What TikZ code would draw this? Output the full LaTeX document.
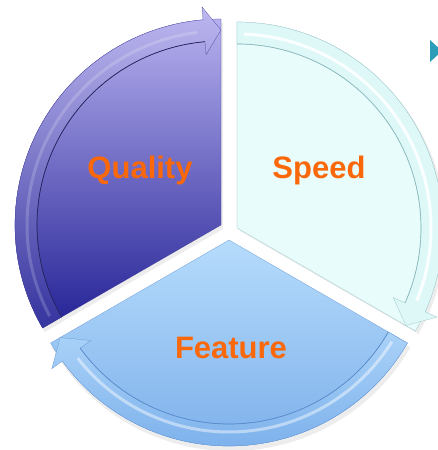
\documentclass[tikz,border=0pt]{standalone}
\usepackage{fontspec}
\setmainfont{Liberation Sans}
\usepackage{tikz}
\definecolor{qualtop}{RGB}{182,176,238}
\definecolor{qualbot}{RGB}{36,34,150}
\definecolor{qualedge}{RGB}{60,56,150}
\definecolor{speedfill}{RGB}{232,252,252}
\definecolor{speedband}{RGB}{222,248,248}
\definecolor{speededge}{RGB}{140,186,190}
\definecolor{feattop}{RGB}{182,220,252}
\definecolor{featbot}{RGB}{118,170,232}
\definecolor{featbandtop}{RGB}{170,210,248}
\definecolor{featbandbot}{RGB}{126,178,236}
\definecolor{featedge}{RGB}{90,140,205}
\definecolor{orangetxt}{RGB}{250,104,10}
\definecolor{bullet}{RGB}{42,158,184}
\tikzset{parttext/.style={font=\bfseries\fontsize{31}{31}\selectfont,text=orangetxt,inner sep=0pt}}
\tikzset{rim/.style={very thin}}
\tikzset{gloss/.style={white,opacity=.5,line width=3pt}}
\tikzset{groove/.style={line width=.7pt}}
\tikzset{shadow/.style={black,opacity=.07}}

\begin{document}
\begin{tikzpicture}[x=1pt,y=1pt]
  \useasboundingbox (0,0) rectangle (437,450);
  % soft shadows
  \fill[shadow,shift={(231,206)}] (0,0) -- (330:207) arc[start angle=330,end angle=210,radius=207] -- cycle;
  \fill[shadow,shift={(240,219)}] (0,0) -- (90:206) arc[start angle=90,end angle=-30,radius=206] -- cycle;
  \fill[shadow,shift={(223,221)}] (0,0) -- (210:206) arc[start angle=210,end angle=90,radius=206] -- cycle;
  % Quality
  \begin{scope}[shift={(221,225)}]
    \shade[top color=qualtop,bottom color=qualbot,draw=qualedge,rim]
    (0,0) -- (210:206) arc[start angle=210,end angle=90,radius=206] -- cycle;
    \shade[top color=qualtop!90!white,bottom color=qualbot!92!white,draw=qualedge,rim]
    (210:184) -- (210:206) arc[start angle=210,end angle=95,radius=206]
    -- (95:219) -- (90:195) -- (95:171) -- (95:184)
    arc[start angle=95,end angle=210,radius=184] -- cycle;
    \draw[gloss,opacity=.18] (208:194) arc[start angle=208,end angle=97,radius=194];
    \draw[groove,qualedge!60!black] (210:184) arc[start angle=210,end angle=95,radius=184];
  \end{scope}
  % Speed
  \begin{scope}[shift={(237,222)}]
    \fill[speedfill,draw=speededge,rim]
    (0,0) -- (90:206) arc[start angle=90,end angle=-30,radius=206] -- cycle;
    \fill[speedband,draw=speededge,rim]
    (90:184) -- (90:206) arc[start angle=90,end angle=-24,radius=206]
    -- (-24:219) -- (-30:195) -- (-24:171) -- (-24:184)
    arc[start angle=-24,end angle=90,radius=184] -- cycle;
    \draw[gloss,opacity=.9] (88:194) arc[start angle=88,end angle=-22,radius=194];
    \draw[groove,speededge] (90:184) arc[start angle=90,end angle=-24,radius=184];
  \end{scope}
  % Feature
  \begin{scope}[shift={(229,210)}]
    \shade[top color=feattop,bottom color=featbot,draw=featedge,rim]
    (0,0) -- (330:206) arc[start angle=330,end angle=210,radius=206] -- cycle;
    \shade[top color=featbandtop,bottom color=featbandbot,draw=featedge,rim]
    (330:184) -- (330:206) arc[start angle=330,end angle=216,radius=206]
    -- (216:219) -- (210:195) -- (216:171) -- (216:184)
    arc[start angle=216,end angle=330,radius=184] -- cycle;
    \draw[gloss,opacity=.45] (328:192) arc[start angle=328,end angle=218,radius=192];
    \draw[groove,featedge] (330:184) arc[start angle=330,end angle=216,radius=184];
  \end{scope}
  \node[parttext] (quality) at (140,280) {Quality};
  \node[parttext] (speed) at (319,280) {Speed};
  \node[parttext] (feature) at (231,102) {Feature};
  \fill[bullet] (430,410) -- (442,399) -- (430,388) -- cycle;
\end{tikzpicture}
\end{document}
